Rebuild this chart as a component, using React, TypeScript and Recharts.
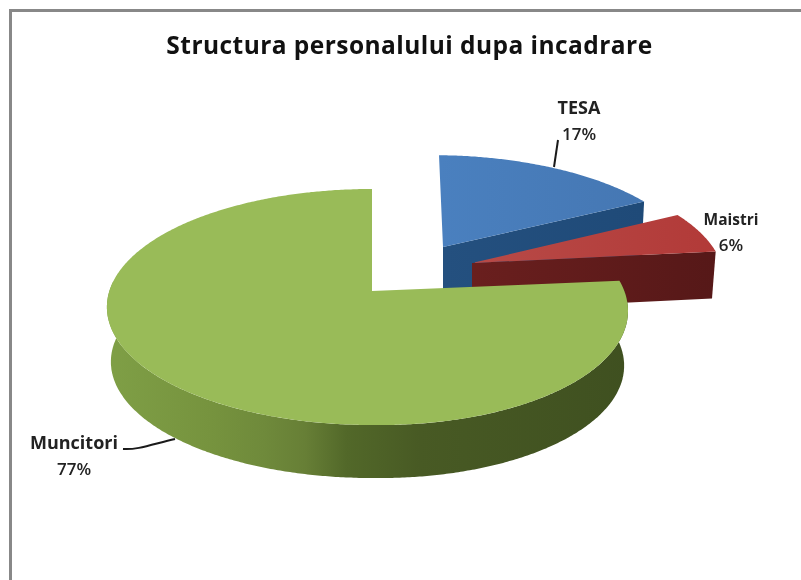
import { PieChart, Pie } from 'recharts';

const categories = ['TESA', 'Maistri', 'Muncitori'];
const values = [17, 6, 77];

const chartData = categories.map((name, i) => ({ name, value: values[i] }));

const FONT = '"Open Sans", "Noto Sans", sans-serif';

// look of each slice on the tilted disc
const SLICE_STYLES = [
  { dx: 71, dy: -44, sx: 0.973, sy: 0.9, skewX: -4, skewY: 2, depth: 60, top: 'url(#topBlue)', wall: 'url(#wallBlue)', rim: '#1f4a78' },
  { dx: 100, dy: -28, sx: 0.985, sy: 0.95, skewX: 0, skewY: 2, depth: 47, top: 'url(#topRed)', wall: 'url(#wallRed)', rim: '#5a1a1a' },
  { dx: 0, dy: 0, sx: 1, sy: 1, skewX: 0, skewY: 4, depth: 55, top: '#99bb58', wall: 'url(#wallGreen)', rim: 'url(#wallGreen)' },
];

const LABEL_STYLES = [
  { x: 579, y: 114, size: 18, line: 'M554 167 L558 140' },
  { x: 731, y: 225, size: 15.5, line: '' },
  { x: 74, y: 449, size: 18, line: 'M123 449 C137 450 150 445 175 439' },
];

// perspective of the disc
const TILT = 0.449;
const PERSPECTIVE = 0.1356;
const LEFT_STRETCH = 1.018;
const RIGHT_STRETCH = 0.983;
const BOTTOM_SHRINK = 0.985;

function project(cx: number, cy: number, r: number, clockDeg: number, style: any) {
  const a = (clockDeg * Math.PI) / 180;
  const u = Math.sin(a);
  const v = Math.cos(a);
  const w = 1 + PERSPECTIVE * v;
  const stretch = u < 0 ? LEFT_STRETCH : RIGHT_STRETCH;
  return {
    x: cx + (r * style.sx * stretch * u) / w + style.skewX * v,
    y: cy - (r * style.sy * TILT * v) / w + style.skewY * Math.max(u, 0),
  };
}

function toPath(points: { x: number; y: number }[]) {
  return points.map((p, i) => `${i ? 'L' : 'M'}${p.x.toFixed(1)} ${p.y.toFixed(1)}`).join(' ') + ' Z';
}

function lower(p: { x: number; y: number }, cx: number, cy: number, depth: number) {
  return { x: cx + (p.x - cx) * BOTTOM_SHRINK, y: cy + (p.y - cy) * BOTTOM_SHRINK + depth };
}

function PieSlice(props: any) {
  const idx = categories.indexOf(props.payload?.name ?? props.name);
  const style = SLICE_STYLES[idx];
  const cx = props.cx + style.dx;
  const cy = props.cy + style.dy;
  const r = props.outerRadius;
  const from = 90 - props.startAngle;
  const to = 90 - props.endAngle;

  const arc: { x: number; y: number }[] = [];
  for (let t = from; t < to; t += 0.5) arc.push(project(cx, cy, r, t, style));
  arc.push(project(cx, cy, r, to, style));
  const apex = { x: cx, y: cy };

  // outer rim, only the part that faces the viewer
  const rimFrom = Math.max(from, 85);
  const rimTo = Math.min(to, 275);
  let rim = null;
  if (rimTo > rimFrom) {
    const upper: { x: number; y: number }[] = [];
    for (let t = rimFrom; t < rimTo; t += 0.5) upper.push(project(cx, cy, r, t, style));
    upper.push(project(cx, cy, r, rimTo, style));
    const bottom = upper.map((p) => lower(p, cx, cy, style.depth)).reverse();
    rim = <path d={toPath([...upper, ...bottom])} fill={style.rim} />;
  }

  // cut face of the slice, visible when it looks to the front
  let wall = null;
  if (to < 180) {
    const corner = project(cx, cy, r, to, style);
    wall = (
      <path
        d={toPath([apex, corner, lower(corner, cx, cy, style.depth), lower(apex, cx, cy, style.depth)])}
        fill={style.wall}
      />
    );
  }

  return (
    <g>
      {wall}
      {rim}
      <path d={toPath([apex, ...arc])} fill={style.top} />
    </g>
  );
}

function SliceLabel(props: any) {
  const style = LABEL_STYLES[props.index];
  const pct = `${Math.round(props.percent * 100)}%`;
  return (
    <g>
      {style.line && <path d={style.line} fill="none" stroke="#1a1a1a" strokeWidth={2} />}
      <text x={style.x} y={style.y} textAnchor="middle" fontFamily={FONT} fontSize={style.size} fontWeight={700} fill="#222">
        {props.name}
      </text>
      <text x={style.x} y={style.y + 26} textAnchor="middle" fontFamily={FONT} fontSize={17} fontWeight={600} fill="#222">
        {pct}
      </text>
    </g>
  );
}

export default function App() {
  return (
    <div style={{ position: 'absolute', left: 0, top: 0, width: 801, height: 580, background: '#fff', overflow: 'hidden' }}>
      <div style={{ position: 'absolute', left: 9, top: 9, right: -10, bottom: -10, borderLeft: '3px solid #888', borderTop: '3px solid #888' }} />
      <PieChart width={801} height={580} margin={{ top: 0, right: 0, bottom: 0, left: 0 }} style={{ position: 'absolute', left: 0, top: 0, filter: 'blur(0.5px)' }}>
        <defs>
          <linearGradient id="topBlue" x1="0" y1="0" x2="1" y2="0">
            <stop offset="0%" stopColor="#4a80bf" />
            <stop offset="100%" stopColor="#4577b3" />
          </linearGradient>
          <linearGradient id="wallBlue" x1="0" y1="0" x2="1" y2="0">
            <stop offset="0%" stopColor="#24507f" />
            <stop offset="100%" stopColor="#1f4a78" />
          </linearGradient>
          <linearGradient id="topRed" x1="0" y1="0" x2="1" y2="0">
            <stop offset="0%" stopColor="#b84a47" />
            <stop offset="100%" stopColor="#b23a38" />
          </linearGradient>
          <linearGradient id="wallRed" x1="0" y1="0" x2="1" y2="0">
            <stop offset="0%" stopColor="#6a1f1e" />
            <stop offset="100%" stopColor="#561818" />
          </linearGradient>
          <linearGradient id="wallGreen" gradientUnits="userSpaceOnUse" x1="107" y1="0" x2="628" y2="0">
            <stop offset="0%" stopColor="#7f9f46" />
            <stop offset="20%" stopColor="#76933e" />
            <stop offset="30%" stopColor="#6f8a3b" />
            <stop offset="38%" stopColor="#677f36" />
            <stop offset="46%" stopColor="#526829" />
            <stop offset="60%" stopColor="#485a24" />
            <stop offset="100%" stopColor="#3f5020" />
          </linearGradient>
        </defs>
        <text x={409.5} y={54} textAnchor="middle" fontFamily={FONT} fontSize={24.5} letterSpacing={0.45} fontWeight={700} fill="#111">
          Structura personalului dupa incadrare
        </text>
        <Pie
          data={chartData}
          dataKey="value"
          nameKey="name"
          cx={372}
          cy={291}
          innerRadius={0}
          outerRadius={258}
          startAngle={90}
          endAngle={-270}
          paddingAngle={0}
          stroke="none"
          shape={PieSlice}
          label={SliceLabel}
          labelLine={false}
          isAnimationActive={false}
        />
      </PieChart>
    </div>
  );
}
